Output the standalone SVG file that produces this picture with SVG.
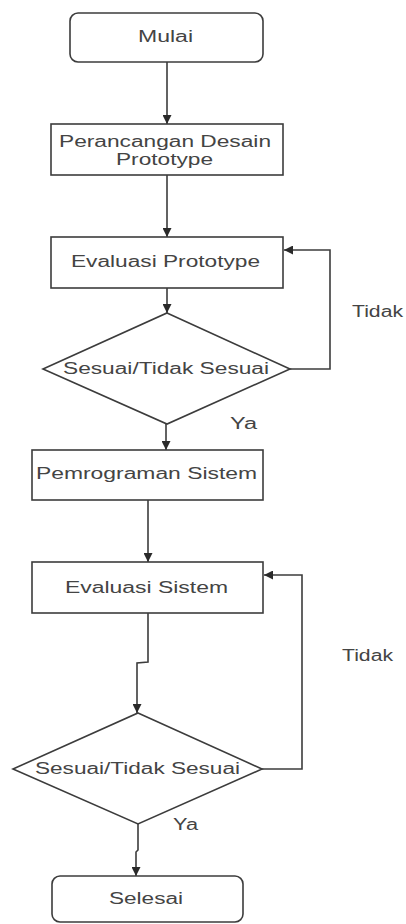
<svg xmlns="http://www.w3.org/2000/svg" width="406" height="924" viewBox="0 0 406 924">
<style>
.box{fill:#fff;stroke:#3c3c3c;stroke-width:1.6}
.ln{fill:none;stroke:#3c3c3c;stroke-width:1.6}
text{font-family:"Liberation Sans",Arial,sans-serif;font-size:16px;fill:#444}
.c{text-anchor:middle}
</style>
<defs>
<marker id="ah" viewBox="0 0 10 10" refX="10" refY="5" markerWidth="9" markerHeight="9" markerUnits="userSpaceOnUse" orient="auto">
<path d="M0,0 L10,5 L0,10 z" fill="#2a2a2a"/>
</marker>
</defs>
<rect width="406" height="924" fill="#fff"/>
<g id="connectors">
<line class="ln" x1="167" y1="62" x2="167" y2="124" marker-end="url(#ah)"/>
<line class="ln" x1="167" y1="175" x2="167" y2="237" marker-end="url(#ah)"/>
<line class="ln" x1="167" y1="288" x2="167" y2="313" marker-end="url(#ah)"/>
<polyline class="ln" points="290,369 330,369 330,250 284,250" marker-end="url(#ah)"/>
<line class="ln" x1="166" y1="424" x2="166" y2="450" marker-end="url(#ah)"/>
<line class="ln" x1="148" y1="500" x2="148" y2="562" marker-end="url(#ah)"/>
<polyline class="ln" points="262,769 302,769 302,575 264,575" marker-end="url(#ah)"/>
<polyline class="ln" points="148,613 148,662 137,663 137,713" marker-end="url(#ah)"/>
<polyline class="ln" points="138,824 138,850 136,852 136,876" marker-end="url(#ah)"/>
<text x="352" y="317" textLength="51" lengthAdjust="spacingAndGlyphs">Tidak</text>
<text x="230" y="429" textLength="27" lengthAdjust="spacingAndGlyphs">Ya</text>
<text x="342" y="661" textLength="51" lengthAdjust="spacingAndGlyphs">Tidak</text>
<text x="173" y="830" textLength="25" lengthAdjust="spacingAndGlyphs">Ya</text>
</g>
<g id="mulai">
<rect class="box" x="70" y="13" width="193" height="49" rx="8"/>
<text x="138" y="42" textLength="55" lengthAdjust="spacingAndGlyphs">Mulai</text>
</g>
<g id="perancangan">
<rect class="box" x="51" y="124" width="232" height="51"/>
<text x="59" y="147" textLength="212" lengthAdjust="spacingAndGlyphs">Perancangan Desain</text>
<text x="116" y="165" textLength="97" lengthAdjust="spacingAndGlyphs">Prototype</text>
</g>
<g id="evaluasi-prototype">
<rect class="box" x="51" y="237" width="232" height="51"/>
<text x="71" y="267" textLength="189" lengthAdjust="spacingAndGlyphs">Evaluasi Prototype</text>
</g>
<g id="keputusan1">
<polygon class="box" points="167,313 290,369 167,424 43,369"/>
<text x="63" y="374" textLength="206" lengthAdjust="spacingAndGlyphs">Sesuai/Tidak Sesuai</text>
</g>
<g id="pemrograman">
<rect class="box" x="32" y="450" width="231" height="50"/>
<text x="36" y="479" textLength="221" lengthAdjust="spacingAndGlyphs">Pemrograman Sistem</text>
</g>
<g id="evaluasi-sistem">
<rect class="box" x="32" y="562" width="231" height="51"/>
<text x="65" y="593" textLength="163" lengthAdjust="spacingAndGlyphs">Evaluasi Sistem</text>
</g>
<g id="keputusan2">
<polygon class="box" points="138,713 262,769 138,824 13,769"/>
<text x="35" y="774" textLength="205" lengthAdjust="spacingAndGlyphs">Sesuai/Tidak Sesuai</text>
</g>
<g id="selesai">
<rect class="box" x="52" y="876" width="191" height="46" rx="8"/>
<text x="109" y="904" textLength="74" lengthAdjust="spacingAndGlyphs">Selesai</text>
</g>
</svg>
